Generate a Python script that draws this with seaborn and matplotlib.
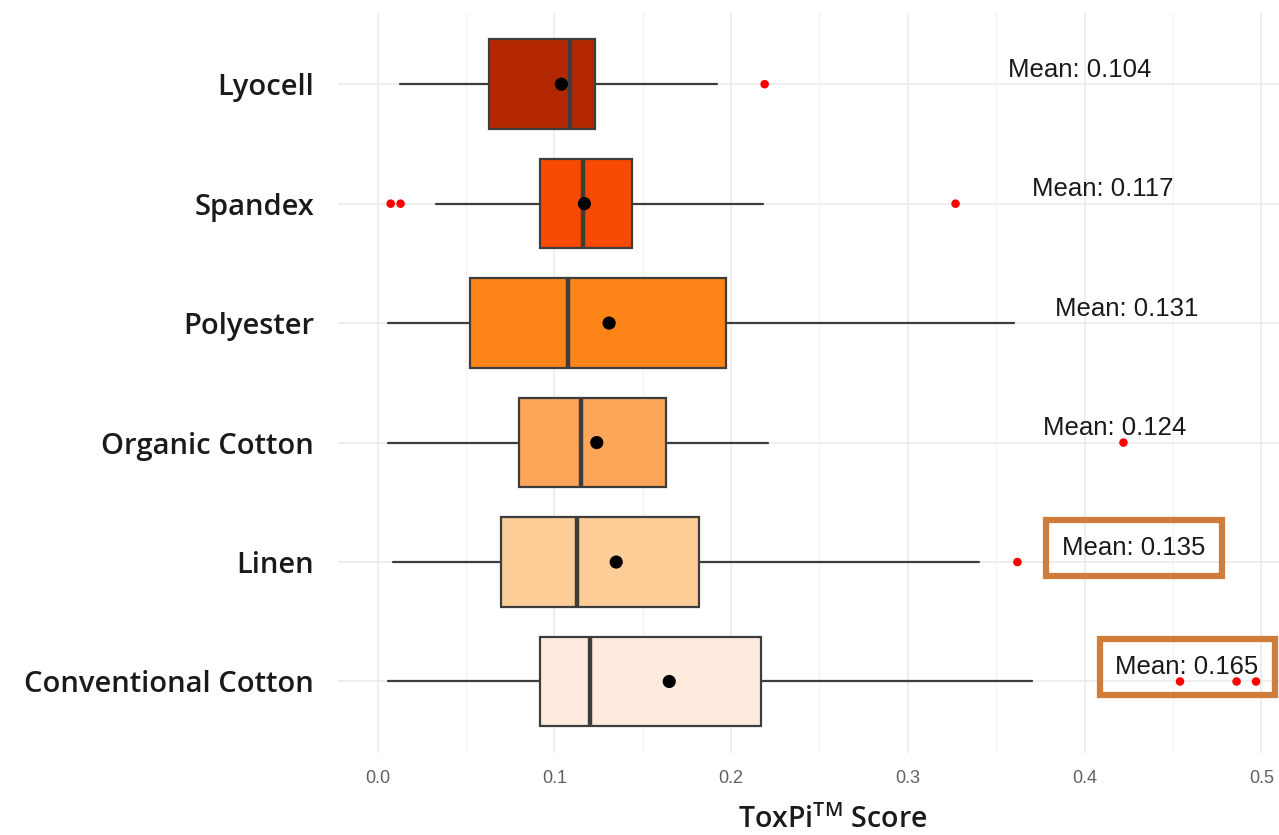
import matplotlib
matplotlib.use("Agg")
import matplotlib.pyplot as plt
import seaborn as sns
import pandas as pd

sns.set_theme(style="whitegrid")
plt.rcParams['font.family'] = ['Liberation Sans', 'DejaVu Sans']

# box statistics (ToxPi score)
fibres = ["Lyocell", "Spandex", "Polyester", "Organic Cotton", "Linen", "Conventional Cotton"]
whisker_lo = [0.0125, 0.033, 0.006, 0.006, 0.0085, 0.006]
q1 = [0.063, 0.092, 0.052, 0.080, 0.070, 0.092]
median = [0.109, 0.116, 0.108, 0.115, 0.113, 0.120]
q3 = [0.123, 0.144, 0.197, 0.163, 0.182, 0.217]
whisker_hi = [0.192, 0.218, 0.360, 0.221, 0.340, 0.370]
means = [0.104, 0.117, 0.131, 0.124, 0.135, 0.165]
outliers = [[0.219], [0.0074, 0.013, 0.327], [], [0.422], [0.362], [0.454, 0.486, 0.497]]
colours = ["#B32800", "#F84A00", "#FD8419", "#FDA65A", "#FECD98", "#FEEBDD"]
highlight = ["Linen", "Conventional Cotton"]

stats = []
for i, f in enumerate(fibres):
    stats.append(dict(label=f, whislo=whisker_lo[i], q1=q1[i], med=median[i],
                      q3=q3[i], whishi=whisker_hi[i], fliers=[]))

fig = plt.figure(figsize=(12.79, 8.35), dpi=100)
ax = fig.add_axes([0.264, 0.098, 0.736, 0.887])

pos = list(range(len(fibres)))
bp = ax.bxp(stats, positions=pos, vert=False, widths=0.75, patch_artist=True,
            showcaps=False, showfliers=False,
            boxprops=dict(edgecolor="#3d3d3d", linewidth=1.6),
            whiskerprops=dict(color="#3d3d3d", linewidth=1.6),
            medianprops=dict(color="#3d3d3d", linewidth=3.2))
for patch, c in zip(bp["boxes"], colours):
    patch.set_facecolor(c)
    patch.set_zorder(2)
for w in bp["whiskers"]:
    w.set_zorder(1.5)

out_df = pd.DataFrame([(i, v) for i, vals in enumerate(outliers) for v in vals],
                      columns=["pos", "score"])
sns.scatterplot(data=out_df, x="score", y="pos", color="red", s=38,
                edgecolor="none", ax=ax, zorder=3)

mean_df = pd.DataFrame({"pos": pos, "mean": means})
sns.scatterplot(data=mean_df, x="mean", y="pos", color="black", s=90,
                edgecolor="none", ax=ax, zorder=4)

for i, m in enumerate(means):
    kw = {}
    if fibres[i] in highlight:
        kw["bbox"] = dict(boxstyle="square,pad=0.62", fc="none",
                          ec="#D07C3A", lw=4.5)
    ax.text(m + 0.293, i - 0.12, f"Mean: {m:.3f}", ha="center", va="center",
            fontsize=18.5, color="#1a1a1a", zorder=5, **kw)

ax.set_xlim(-0.0226, 0.51)
ax.set_ylim(5.6, -0.6)
ax.set_xticks([0.0, 0.1, 0.2, 0.3, 0.4, 0.5])
ax.set_xticks([0.05, 0.15, 0.25, 0.35, 0.45], minor=True)
ax.set_xticklabels(["0.0", "0.1", "0.2", "0.3", "0.4", "0.5"])
ax.set_yticks(pos)
ax.set_yticklabels(fibres)
ax.set_facecolor("white")
ax.grid(which="major", color="#ebebeb", linewidth=1.2)
ax.grid(which="minor", axis="x", color="#f3f3f3", linewidth=0.9)
ax.set_axisbelow(True)
for s in ax.spines.values():
    s.set_visible(False)
ax.tick_params(axis="x", labelsize=13, labelcolor="#606060", length=0, pad=12)
ax.tick_params(axis="y", labelsize=21, labelcolor="#1a1a1a", length=0, pad=17)
for t in ax.get_yticklabels():
    t.set_fontfamily(["Open Sans", "DejaVu Sans"])
    t.set_fontweight("semibold")
ax.set_xlabel("")
ax.set_ylabel("")

fig.text(0.651, 0.0, r"ToxPi$^{\mathregular{TM}}$ Score", ha="center", va="bottom",
         fontsize=20.5, fontweight="semibold", family=["Open Sans", "DejaVu Sans"],
         color="#1a1a1a")

fig.savefig("out.png", dpi=100)
